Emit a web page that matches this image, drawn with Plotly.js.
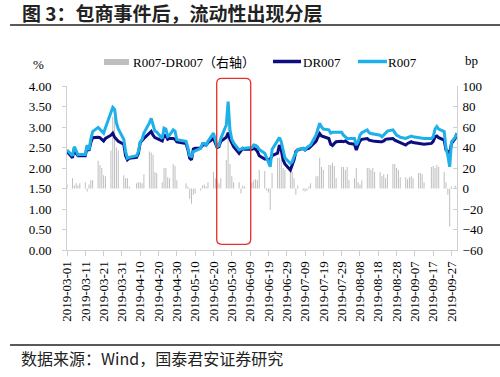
<!DOCTYPE html>
<html>
<head>
<meta charset="utf-8">
<script src="https://cdn.plot.ly/plotly-3.0.1.min.js"></script>
<style>
html,body{margin:0;padding:0;background:#fff;}
#chart{width:500px;height:377px;}
</style>
</head>
<body>
<div id="chart"></div>
<script>
// ---- data ----
const dates = [
  // March
  '2019-03-01','2019-03-04','2019-03-05','2019-03-06','2019-03-07','2019-03-08','2019-03-11','2019-03-12','2019-03-13','2019-03-14','2019-03-15',
  '2019-03-18','2019-03-19','2019-03-20','2019-03-21','2019-03-22','2019-03-25','2019-03-26','2019-03-27','2019-03-28','2019-03-29',
  // April
  '2019-04-01','2019-04-02','2019-04-03','2019-04-04','2019-04-08','2019-04-09','2019-04-10','2019-04-11','2019-04-12','2019-04-15','2019-04-16',
  '2019-04-17','2019-04-18','2019-04-19','2019-04-22','2019-04-23','2019-04-24','2019-04-25','2019-04-26','2019-04-28','2019-04-29','2019-04-30',
  // May
  '2019-05-05','2019-05-06','2019-05-07','2019-05-08','2019-05-09','2019-05-10','2019-05-13','2019-05-14','2019-05-15','2019-05-16','2019-05-17',
  '2019-05-20','2019-05-21','2019-05-22','2019-05-23','2019-05-24','2019-05-27','2019-05-28','2019-05-29','2019-05-30','2019-05-31',
  // June
  '2019-06-03','2019-06-04','2019-06-05','2019-06-06','2019-06-10','2019-06-11','2019-06-12','2019-06-13','2019-06-14','2019-06-17',
  '2019-06-18','2019-06-19','2019-06-20','2019-06-21','2019-06-24','2019-06-25','2019-06-26','2019-06-27','2019-06-28',
  // July
  '2019-07-01','2019-07-02','2019-07-03','2019-07-04','2019-07-05','2019-07-08','2019-07-09','2019-07-10','2019-07-11','2019-07-12','2019-07-15',
  '2019-07-16','2019-07-17','2019-07-18','2019-07-19','2019-07-22','2019-07-23','2019-07-24','2019-07-25','2019-07-26','2019-07-29','2019-07-30','2019-07-31',
  // August
  '2019-08-01','2019-08-02','2019-08-05','2019-08-06','2019-08-07','2019-08-08','2019-08-09','2019-08-12','2019-08-13','2019-08-14','2019-08-15',
  '2019-08-16','2019-08-19','2019-08-20','2019-08-21','2019-08-22','2019-08-23','2019-08-26','2019-08-27','2019-08-28','2019-08-29','2019-08-30',
  // September
  '2019-09-02','2019-09-03','2019-09-04','2019-09-05','2019-09-06','2019-09-09','2019-09-10','2019-09-11','2019-09-12','2019-09-16','2019-09-17',
  '2019-09-18','2019-09-19','2019-09-20','2019-09-23','2019-09-24','2019-09-25','2019-09-26','2019-09-27','2019-09-29','2019-09-30'
];
const r007 = [
  2.44,2.30,2.52,2.40,2.32,2.33,2.33,2.56,2.44,2.70,2.89,2.99,2.95,2.90,2.85,2.98,3.35,3.48,3.43,3.10,2.95,
  2.70,2.40,2.24,2.26,2.30,2.40,2.64,2.70,2.85,3.10,3.21,3.05,2.90,2.88,2.72,2.97,2.95,2.77,2.80,2.93,2.90,2.69,
  2.65,2.50,2.30,2.28,2.40,2.42,2.48,2.60,2.60,2.56,2.65,2.85,2.70,2.52,2.55,2.72,3.05,3.62,2.93,2.70,2.61,
  2.44,2.46,2.48,2.48,2.50,2.56,2.55,2.52,2.45,2.36,2.25,2.18,2.03,2.45,2.68,2.74,2.64,2.40,2.25,
  2.11,2.15,2.28,2.35,2.45,2.48,2.44,2.50,2.52,2.56,2.80,2.95,3.09,3.00,2.95,2.93,2.85,2.87,2.87,2.86,2.87,2.80,2.75,
  2.72,2.72,2.72,2.56,2.64,2.80,2.86,2.93,2.86,2.84,2.83,2.82,2.80,2.76,2.80,2.86,2.90,2.93,2.86,2.80,2.78,2.75,
  2.72,2.74,2.76,2.78,2.76,2.74,2.72,2.73,2.72,2.72,2.76,2.95,3.01,2.95,2.89,2.48,2.30,2.03,2.64,2.75,2.85
];
const dr007 = [
  2.40,2.25,2.49,2.36,2.30,2.30,2.30,2.52,2.42,2.62,2.74,2.75,2.74,2.70,2.66,2.72,2.80,2.85,2.75,2.70,2.65,
  2.58,2.30,2.20,2.24,2.26,2.36,2.62,2.66,2.72,2.85,2.89,2.80,2.74,2.72,2.66,2.80,2.78,2.70,2.72,2.72,2.70,2.64,
  2.60,2.45,2.24,2.20,2.46,2.48,2.49,2.55,2.57,2.56,2.62,2.72,2.62,2.50,2.52,2.65,2.75,2.86,2.70,2.60,2.52,
  2.36,2.42,2.48,2.46,2.46,2.48,2.46,2.40,2.30,2.22,2.22,2.20,2.22,2.30,2.36,2.56,2.44,2.20,2.10,
  1.95,2.07,2.20,2.40,2.44,2.48,2.44,2.47,2.48,2.52,2.65,2.75,2.84,2.78,2.76,2.72,2.58,2.55,2.60,2.64,2.65,2.64,2.66,
  2.62,2.60,2.58,2.44,2.56,2.66,2.70,2.72,2.68,2.67,2.66,2.65,2.64,2.64,2.66,2.70,2.71,2.72,2.68,2.66,2.62,2.60,
  2.56,2.60,2.63,2.64,2.62,2.60,2.59,2.58,2.58,2.60,2.65,2.76,2.78,2.74,2.68,2.44,2.40,2.36,2.60,2.72,2.85
];
const spreadBp = [
  4,10,3,5,3,5,6,-3,4,8,8,27,23,20,13,12,37,70,72,40,37,
  13,10,10,2,5,6,6,5,14,36,35,33,16,15,6,20,20,11,10,24,22,8,
  5,2,-10,-15,-6,-5,-2,3,4,2,6,16,10,8,5,10,28,75,24,12,6,
  6,-5,3,2,6,8,9,8,18,17,-2,-4,-21,15,30,30,28,20,18,
  18,16,10,-6,3,-2,-3,-2,2,5,12,12,30,21,18,23,23,25,22,10,21,21,18,
  21,8,10,20,6,4,8,20,20,18,20,16,16,12,14,10,14,24,24,20,18,11,
  11,9,11,12,10,15,15,14,6,21,22,20,23,21,16,6,-6,-37,2,3,1
];
const tickDates = ['2019-03-01','2019-03-11','2019-03-21','2019-03-31','2019-04-10','2019-04-20','2019-04-30',
  '2019-05-10','2019-05-20','2019-05-30','2019-06-09','2019-06-19','2019-06-29','2019-07-09','2019-07-19',
  '2019-07-29','2019-08-08','2019-08-18','2019-08-28','2019-09-07','2019-09-17','2019-09-27'];
const seriesNames = ['R007-DR007（右轴）','DR007','R007'];
const titleText = '图 3：包商事件后，流动性出现分层';
const sourceText = '数据来源：Wind，国泰君安证券研究';

// ---- layout helpers (pixel -> paper) ----
const W = 500, H = 377;
const M = {l:67, r:43, t:86, b:127};
const PW = W - M.l - M.r, PH = H - M.t - M.b;
const px = v => (v - M.l) / PW;
const py = v => (H - M.b - v) / PH;

const SERIF = '"Liberation Serif","Times New Roman","Noto Sans CJK SC",serif';
const CJK = '"Noto Sans CJK SC","Liberation Serif",sans-serif';
const AX = '#d0d0d0';
const GRAY = '#bfbfbf', NAVY = '#0d0d80', SKY = '#1fb0ea';

const traces = [
  {type:'bar', x:dates, y:spreadBp, yaxis:'y', name:seriesNames[0],
   marker:{color:GRAY, line:{width:0}}, width:0.55*86400000},
  {type:'scatter', mode:'lines', x:dates, y:dr007, yaxis:'y2', name:seriesNames[1],
   line:{color:NAVY, width:3}},
  {type:'scatter', mode:'lines', x:dates, y:r007, yaxis:'y2', name:seriesNames[2],
   line:{color:SKY, width:3}}
];

// rounded red box
const x0 = px(216.7), x1 = px(250.7), y0 = py(244.3), y1 = py(78.3);
const rx = 5/PW, ry = 5/PH;
const boxPath = `M ${x0+rx},${y0} L ${x1-rx},${y0} Q ${x1},${y0} ${x1},${y0+ry} L ${x1},${y1-ry} Q ${x1},${y1} ${x1-rx},${y1} ` +
  `L ${x0+rx},${y1} Q ${x0},${y1} ${x0},${y1-ry} L ${x0},${y0+ry} Q ${x0},${y0} ${x0+rx},${y0} Z`;

const layout = {
  width:W, height:H, margin:M, paper_bgcolor:'#fff', plot_bgcolor:'#fff',
  showlegend:false, hovermode:false,
  title:{text:titleText, xref:'container', yref:'container', x:22/W, xanchor:'left', y:1-14/H, yanchor:'middle',
    font:{family:CJK, size:19, weight:'bold', color:'#222'}},
  xaxis:{type:'date', range:['2019-03-01','2019-09-30'], tickvals:tickDates, ticktext:tickDates, tickangle:-90,
    ticks:'outside', ticklen:5, tickcolor:AX, showline:true, linecolor:AX, linewidth:1, showgrid:false, zeroline:false,
    tickfont:{family:SERIF, size:13, color:'#000'}},
  yaxis:{range:[-60,100], dtick:20, side:'right', showline:true, linecolor:AX, ticks:'inside', ticklen:4, tickcolor:AX,
    showgrid:false, zeroline:false, tickfont:{family:SERIF, size:13, color:'#000'}, ticklabelstandoff:2},
  yaxis2:{range:[0,4], dtick:0.5, tickformat:'.2f', side:'left', overlaying:'y', anchor:'x', showline:true, linecolor:AX,
    ticks:'outside', ticklen:4, tickcolor:AX, showgrid:false, zeroline:false,
    tickfont:{family:SERIF, size:13, color:'#000'}, ticklabelstandoff:8},
  shapes:[
    {type:'line', xref:'paper', yref:'paper', x0:px(10), x1:px(500), y0:py(25), y1:py(25), line:{color:'#222', width:1.5}},
    {type:'line', xref:'paper', yref:'paper', x0:px(10), x1:px(500), y0:py(345), y1:py(345), line:{color:'#222', width:1.5}},
    {type:'path', xref:'paper', yref:'paper', path:boxPath, line:{color:'#e8302a', width:1.3}},
    {type:'rect', xref:'paper', yref:'paper', x0:px(104), x1:px(129), y0:py(65), y1:py(59), fillcolor:GRAY, line:{width:0}},
    {type:'line', xref:'paper', yref:'paper', x0:px(273), x1:px(301), y0:py(61.5), y1:py(61.5), line:{color:NAVY, width:3.5}},
    {type:'line', xref:'paper', yref:'paper', x0:px(358), x1:px(387), y0:py(61.5), y1:py(61.5), line:{color:SKY, width:3.5}}
  ],
  annotations:[
    {text:seriesNames[0], xref:'paper', yref:'paper', x:px(131), y:py(62), xanchor:'left', yanchor:'middle', showarrow:false,
     font:{family:SERIF, size:13, color:'#000'}},
    {text:seriesNames[1], xref:'paper', yref:'paper', x:px(301), y:py(62), xanchor:'left', yanchor:'middle', showarrow:false,
     font:{family:SERIF, size:13, color:'#000'}},
    {text:seriesNames[2], xref:'paper', yref:'paper', x:px(386), y:py(62), xanchor:'left', yanchor:'middle', showarrow:false,
     font:{family:SERIF, size:13, color:'#000'}},
    {text:'%', xref:'paper', yref:'paper', x:px(38), y:py(64), xanchor:'center', yanchor:'middle', showarrow:false,
     font:{family:SERIF, size:13, color:'#000'}},
    {text:'bp', xref:'paper', yref:'paper', x:px(471), y:py(60), xanchor:'center', yanchor:'middle', showarrow:false,
     font:{family:SERIF, size:13, color:'#000'}},
    {text:sourceText, xref:'paper', yref:'paper', x:px(19), y:py(358), xanchor:'left', yanchor:'middle', showarrow:false,
     font:{family:CJK, size:16, color:'#222'}}
  ]
};

Plotly.newPlot('chart', traces, layout, {displayModeBar:false, staticPlot:true});
</script>
</body>
</html>
